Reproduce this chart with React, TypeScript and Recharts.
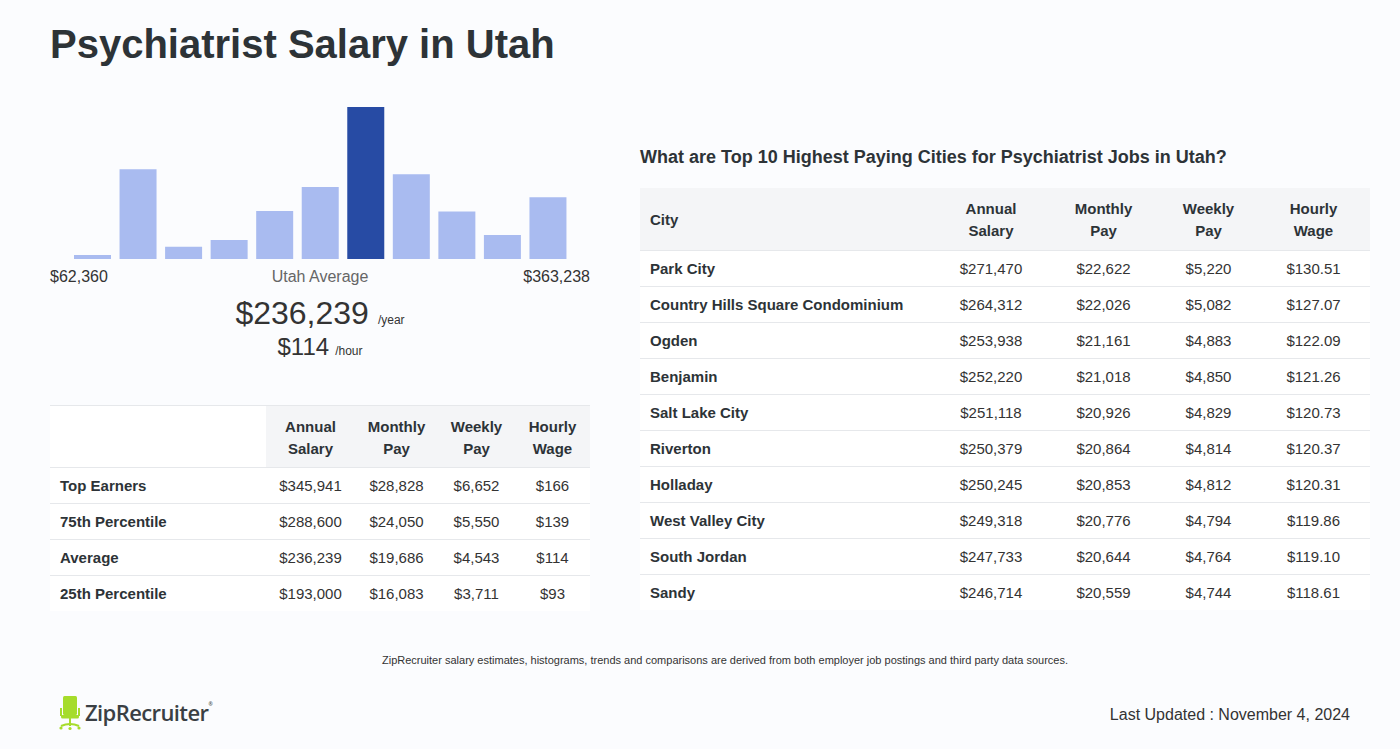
import { BarChart, Bar, XAxis, YAxis, Cell } from "recharts";

// histogram bins (relative height, tallest = 100)
const binHeights = [2.6, 59.1, 8.1, 12.5, 31.5, 47.3, 100, 55.8, 31.3, 15.8, 40.7];
const averageBin = 6;
const rangeLow = "$62,360";
const rangeHigh = "$363,238";
const avgYear = "$236,239";
const avgHour = "$114";

const payLabels = ["Top Earners", "75th Percentile", "Average", "25th Percentile"];
const payAnnual = ["$345,941", "$288,600", "$236,239", "$193,000"];
const payMonthly = ["$28,828", "$24,050", "$19,686", "$16,083"];
const payWeekly = ["$6,652", "$5,550", "$4,543", "$3,711"];
const payHourly = ["$166", "$139", "$114", "$93"];

const cities = [
  "Park City", "Country Hills Square Condominium", "Ogden", "Benjamin", "Salt Lake City",
  "Riverton", "Holladay", "West Valley City", "South Jordan", "Sandy",
];
const cityAnnual = ["$271,470", "$264,312", "$253,938", "$252,220", "$251,118", "$250,379", "$250,245", "$249,318", "$247,733", "$246,714"];
const cityMonthly = ["$22,622", "$22,026", "$21,161", "$21,018", "$20,926", "$20,864", "$20,853", "$20,776", "$20,644", "$20,559"];
const cityWeekly = ["$5,220", "$5,082", "$4,883", "$4,850", "$4,829", "$4,814", "$4,812", "$4,794", "$4,764", "$4,744"];
const cityHourly = ["$130.51", "$127.07", "$122.09", "$121.26", "$120.73", "$120.37", "$120.31", "$119.86", "$119.10", "$118.61"];

const FONT = "'Liberation Sans', Arial, Helvetica, sans-serif";
const DARK = "#2d3337";
const LINE = "#e6e8eb";
const HEAD_BG = "#f4f5f7";

const histData = binHeights.map((v, i) => ({ bin: i, v }));

const th: React.CSSProperties = {
  fontWeight: 700, fontSize: 15, lineHeight: "22px", textAlign: "center",
  background: HEAD_BG, padding: 0, paddingTop: 2, color: DARK,
};
const td: React.CSSProperties = {
  fontSize: 15, textAlign: "center", padding: 0, height: 35,
  borderTop: `1px solid ${LINE}`, color: "#333", background: "#fff",
};
const tdLabel: React.CSSProperties = { ...td, textAlign: "left", paddingLeft: 10, fontWeight: 700, color: DARK };

function Chair() {
  return (
    <svg width={24} height={36} viewBox="0 0 24 36" style={{ position: "absolute", left: 58, top: 695 }}>
      <rect x={5} y={1} width={14} height={19} rx={1.5} fill="#a6dc2b" />
      <rect x={2} y={13} width={2} height={8} fill="#a6dc2b" />
      <rect x={20} y={13} width={2} height={8} fill="#a6dc2b" />
      <rect x={3} y={20} width={18} height={3.5} rx={1.5} fill="#a6dc2b" />
      <rect x={11} y={23} width={2} height={8} fill="#a6dc2b" />
      <path d="M3 31 Q12 27 21 31" stroke="#a6dc2b" strokeWidth={2} fill="none" />
      <circle cx={3} cy={33} r={1.6} fill="#a6dc2b" />
      <circle cx={21} cy={33} r={1.6} fill="#a6dc2b" />
      <circle cx={12} cy={33.5} r={1.6} fill="#a6dc2b" />
    </svg>
  );
}

export default function App() {
  return (
    <div style={{ position: "absolute", left: 0, top: 0, width: 1400, height: 749, background: "#fbfcfe", fontFamily: FONT, color: DARK, overflow: "hidden" }}>
      <div style={{ position: "absolute", left: 50, top: 18, fontSize: 40, fontWeight: 700, lineHeight: "52px" }}>
        Psychiatrist Salary in Utah
      </div>

      {/* histogram */}
      <div style={{ position: "absolute", left: 50, top: 107 }}>
        <BarChart width={540} height={152} data={histData} margin={{ top: 0, right: 19, bottom: 0, left: 20 }}>
          <XAxis dataKey="bin" hide />
          <YAxis hide domain={[0, 100]} />
          <Bar dataKey="v" barSize={37} isAnimationActive={false}>
            {histData.map((d, i) => (
              <Cell key={i} fill={i === averageBin ? "#274ba4" : "#a9bbf0"} />
            ))}
          </Bar>
        </BarChart>
      </div>
      <div style={{ position: "absolute", left: 50, top: 267, width: 540, height: 20, fontSize: 16, lineHeight: "20px" }}>
        <span style={{ position: "absolute", left: 0, color: "#333" }}>{rangeLow}</span>
        <span style={{ position: "absolute", left: 0, width: 540, textAlign: "center", color: "#666" }}>Utah Average</span>
        <span style={{ position: "absolute", right: 0, color: "#333" }}>{rangeHigh}</span>
      </div>
      <div style={{ position: "absolute", left: 50, top: 293, width: 540, textAlign: "center", lineHeight: "40px" }}>
        <span style={{ fontSize: 32, color: "#333" }}>{avgYear}</span>
        <span style={{ fontSize: 12, color: "#333", marginLeft: 9 }}>/year</span>
      </div>
      <div style={{ position: "absolute", left: 50, top: 332, width: 540, textAlign: "center", lineHeight: "30px" }}>
        <span style={{ fontSize: 24, color: "#333" }}>{avgHour}</span>
        <span style={{ fontSize: 12, color: "#333", marginLeft: 6 }}>/hour</span>
      </div>

      {/* left table */}
      <table style={{ position: "absolute", left: 50, top: 405, width: 540, borderCollapse: "collapse", fontFamily: FONT }}>
        <colgroup>
          <col style={{ width: 216 }} /><col style={{ width: 89 }} /><col style={{ width: 83 }} /><col style={{ width: 77 }} /><col style={{ width: 75 }} />
        </colgroup>
        <thead>
          <tr style={{ height: 62, borderTop: `1px solid ${LINE}` }}>
            <th style={{ ...th, background: "#fff" }}></th>
            <th style={th}>Annual<br />Salary</th>
            <th style={th}>Monthly<br />Pay</th>
            <th style={th}>Weekly<br />Pay</th>
            <th style={th}>Hourly<br />Wage</th>
          </tr>
        </thead>
        <tbody>
          {payLabels.map((l, i) => (
            <tr key={l}>
              <td style={tdLabel}>{l}</td>
              <td style={td}>{payAnnual[i]}</td>
              <td style={td}>{payMonthly[i]}</td>
              <td style={td}>{payWeekly[i]}</td>
              <td style={td}>{payHourly[i]}</td>
            </tr>
          ))}
        </tbody>
      </table>

      {/* right side */}
      <div style={{ position: "absolute", left: 640, top: 145, fontSize: 18, fontWeight: 700, lineHeight: "24px" }}>
        What are Top 10 Highest Paying Cities for Psychiatrist Jobs in Utah?
      </div>
      <table style={{ position: "absolute", left: 640, top: 188, width: 730, borderCollapse: "collapse", fontFamily: FONT }}>
        <colgroup>
          <col style={{ width: 295 }} /><col style={{ width: 112 }} /><col style={{ width: 113 }} /><col style={{ width: 97 }} /><col style={{ width: 113 }} />
        </colgroup>
        <thead>
          <tr style={{ height: 62 }}>
            <th style={{ ...th, textAlign: "left", paddingLeft: 10 }}>City</th>
            <th style={th}>Annual<br />Salary</th>
            <th style={th}>Monthly<br />Pay</th>
            <th style={th}>Weekly<br />Pay</th>
            <th style={th}>Hourly<br />Wage</th>
          </tr>
        </thead>
        <tbody>
          {cities.map((c, i) => (
            <tr key={c}>
              <td style={tdLabel}>{c}</td>
              <td style={td}>{cityAnnual[i]}</td>
              <td style={td}>{cityMonthly[i]}</td>
              <td style={td}>{cityWeekly[i]}</td>
              <td style={td}>{cityHourly[i]}</td>
            </tr>
          ))}
        </tbody>
      </table>

      <div style={{ position: "absolute", left: 50, top: 653, width: 1350, textAlign: "center", fontSize: 11, color: "#333", lineHeight: "14px" }}>
        ZipRecruiter salary estimates, histograms, trends and comparisons are derived from both employer job postings and third party data sources.
      </div>

      <Chair />
      <div style={{ position: "absolute", left: 85, top: 697, fontSize: 22, fontWeight: 600, color: "#3a3f44", fontFamily: "'Open Sans', sans-serif", lineHeight: "30px", letterSpacing: -0.6 }}>
        ZipRecruiter<sup style={{ fontSize: 5, verticalAlign: "top", lineHeight: "14px" }}>®</sup>
      </div>
      <div style={{ position: "absolute", right: 50, top: 705, fontSize: 16, color: "#333", lineHeight: "20px" }}>
        Last Updated : November 4, 2024
      </div>
    </div>
  );
}
